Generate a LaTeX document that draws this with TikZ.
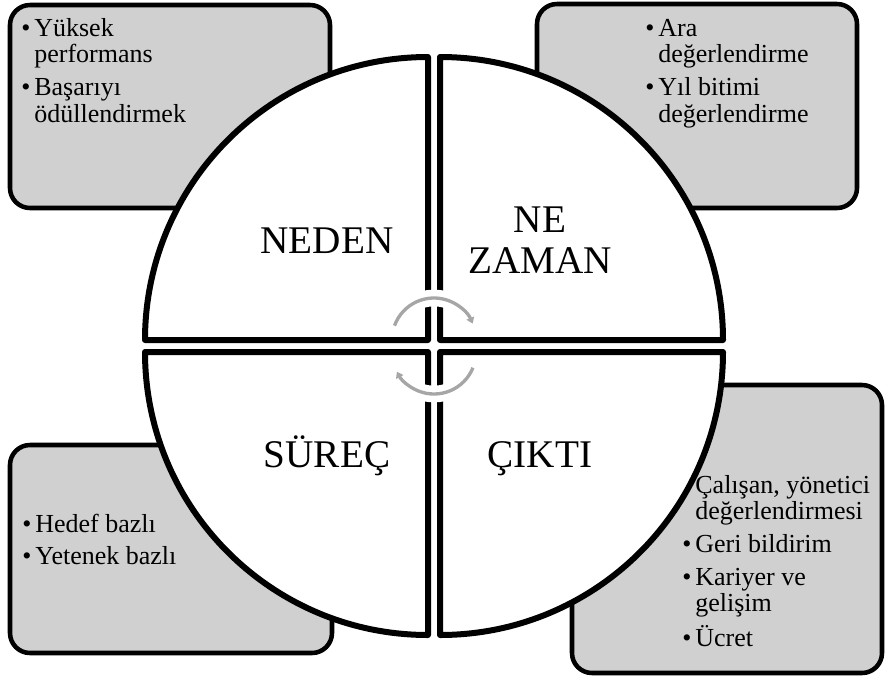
\documentclass[tikz,border=0pt]{standalone}
\usepackage{fontspec}
\setmainfont{Liberation Serif}
\usetikzlibrary{arrows.meta}
\definecolor{boxgray}{RGB}{208,208,208}
\definecolor{arrowgray}{RGB}{166,166,166}
\begin{document}
\begin{tikzpicture}[x=0.75pt,y=-0.75pt,
  sidebox/.style={draw=black, line width=3.4pt, fill=boxgray, rounded corners=15pt},
  quadrant/.style={draw=black, line width=4.5pt, fill=white, line join=round},
  boxtext/.style={inner sep=0pt, anchor=base west, font=\fontsize{19.5}{20}\selectfont},
  quadlabel/.style={inner sep=0pt, anchor=base, font=\fontsize{29.4}{30.75}\selectfont},
  cyclearrow/.style={draw=arrowgray, line width=2.5pt, -{Triangle[length=4.5pt,width=6pt]}},
  arrowhalo/.style={draw=white, line width=12.5pt}
]
\useasboundingbox (0,0) rectangle (886,679);

% side boxes
\draw[sidebox] (10,5) rectangle (330,208);
\draw[sidebox] (537,4) rectangle (857,208);
\draw[sidebox] (10,445) rectangle (332,653);
\draw[sidebox] (572,385) rectangle (882,673);

% quadrants
\draw[quadrant] (428,340) -- (145,340) arc[start angle=180, end angle=270, radius=283] -- cycle;
\draw[quadrant] (440,340) -- (440,57) arc[start angle=270, end angle=360, radius=283] -- cycle;
\draw[quadrant] (440,352) -- (723,352) arc[start angle=0, end angle=90, radius=283] -- cycle;
\draw[quadrant] (428,352) -- (428,635) arc[start angle=90, end angle=180, radius=283] -- cycle;

% box texts
\node[boxtext] (tltext) at (21,36) {\begin{tabular}[t]{@{}l@{\hspace{3pt}}l@{}}
\textbullet & Yüksek\\
 & performans\\[4.5pt]
\textbullet & Başarıyı\\
 & ödüllendirmek
\end{tabular}};
\node[boxtext] (trtext) at (645,36) {\begin{tabular}[t]{@{}l@{\hspace{3pt}}l@{}}
\textbullet & Ara\\
 & değerlendirme\\[4.5pt]
\textbullet & Yıl bitimi\\
 & değerlendirme
\end{tabular}};
\node[boxtext] (bltext) at (22,532) {\begin{tabular}[t]{@{}l@{\hspace{3pt}}l@{}}
\textbullet & Hedef bazlı\\[4.5pt]
\textbullet & Yetenek bazlı
\end{tabular}};
\node[boxtext] (brtext) at (682,493) {\begin{tabular}[t]{@{}l@{\hspace{3pt}}l@{}}
\phantom{\textbullet} & Çalışan, yönetici\\
 & değerlendirmesi\\[4.5pt]
\textbullet & Geri bildirim\\[4.5pt]
\textbullet & Kariyer ve\\
 & gelişim\\[4.5pt]
\textbullet & Ücret
\end{tabular}};

% quadrant labels
\node[quadlabel] (neden) at (327,253) {NEDEN};
\node[quadlabel] (nezaman) at (540,232) {\begin{tabular}[t]{@{}c@{}}NE\\ZAMAN\end{tabular}};
\node[quadlabel] (surec) at (327,467) {SÜREÇ};
\node[quadlabel] (cikti) at (540,467) {ÇIKTI};

% cycle arrows
\draw[arrowhalo] (434,340) ++(200:42) arc[start angle=200, end angle=337, radius=42];
\draw[arrowhalo] (434,352) ++(22:42) arc[start angle=22, end angle=152, radius=42];
\draw[cyclearrow] (434,340) ++(200:42) arc[start angle=200, end angle=337, radius=42];
\draw[cyclearrow] (434,352) ++(22:42) arc[start angle=22, end angle=152, radius=42];
\end{tikzpicture}
\end{document}
